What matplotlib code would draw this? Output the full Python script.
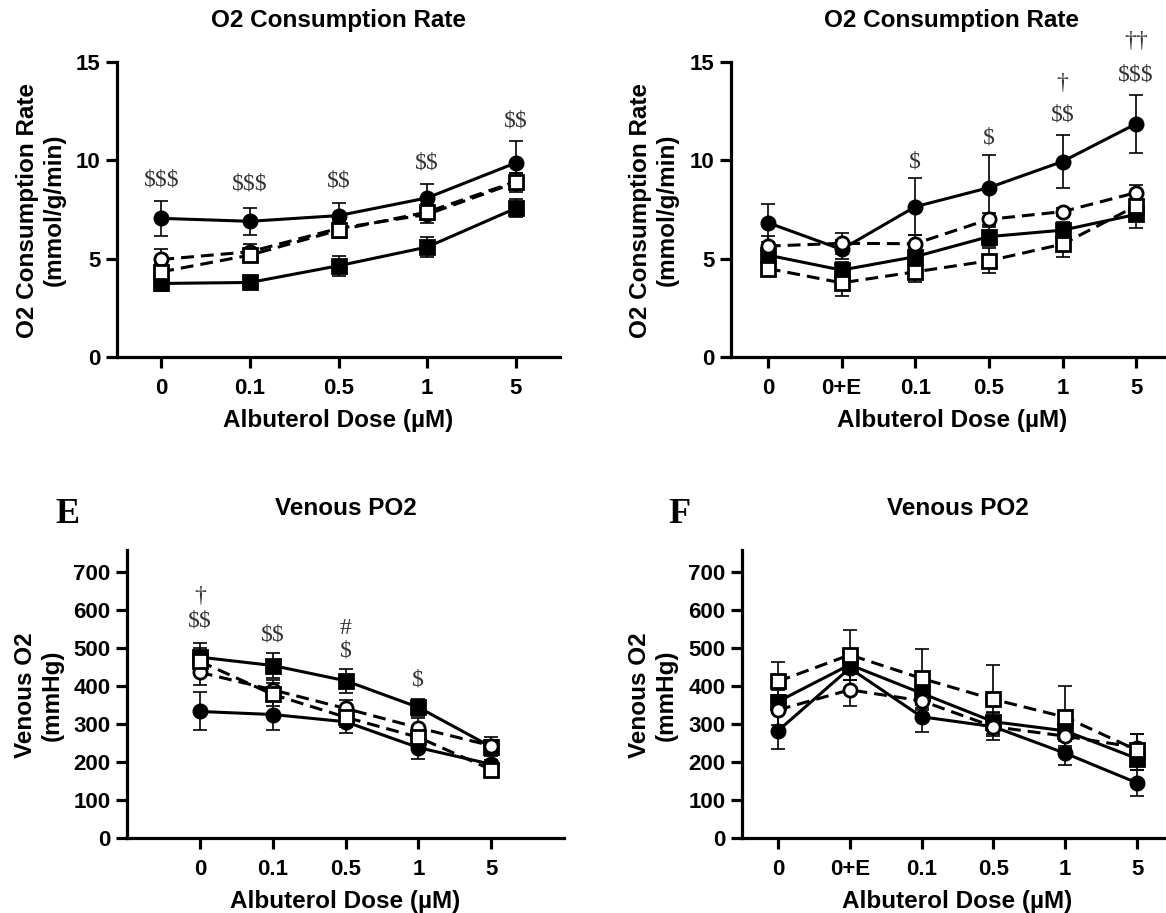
import matplotlib
matplotlib.use("Agg")
import matplotlib.pyplot as plt
import numpy as np

W, H = 1166, 913

# --- data ---
dose_a = ["0", "0.1", "0.5", "1", "5"]
dose_b = ["0", "0+E", "0.1", "0.5", "1", "5"]

# O2 consumption, panel A (mmol/g/min)
a_circ_f = [7.05, 6.90, 7.19, 8.09, 9.87]
a_circ_f_err = [0.90, 0.70, 0.65, 0.70, 1.10]
a_sq_f = [3.74, 3.79, 4.64, 5.59, 7.56]
a_sq_f_err = [0.37, 0.35, 0.50, 0.50, 0.45]
a_circ_o = [4.96, 5.35, 6.54, 7.25, 8.87]
a_circ_o_err = [0.55, 0.40, 0.45, 0.45, 0.50]
a_sq_o = [4.33, 5.18, 6.45, 7.37, 8.92]
a_sq_o_err = [0.40, 0.35, 0.40, 0.40, 0.45]

# O2 consumption, panel B
b_circ_f = [6.83, 5.47, 7.64, 8.61, 9.94, 11.86]
b_circ_f_err = [0.97, 0.50, 1.45, 1.68, 1.37, 1.47]
b_circ_o = [5.64, 5.78, 5.76, 7.00, 7.39, 8.36]
b_circ_o_err = [0.50, 0.55, 0.45, 0.30, 0.20, 0.40]
b_sq_f = [5.18, 4.42, 5.10, 6.12, 6.45, 7.25]
b_sq_f_err = [0.40, 0.40, 0.45, 0.50, 0.40, 0.70]
b_sq_o = [4.50, 3.77, 4.33, 4.89, 5.74, 7.68]
b_sq_o_err = [0.30, 0.66, 0.50, 0.64, 0.65, 0.50]

# Venous PO2, panel E (mmHg)
e_sq_f = [476, 454, 414, 344, 240]
e_sq_f_err = [38, 32, 32, 23, 25]
e_circ_f = [333, 325, 306, 238, 194]
e_circ_f_err = [50, 42, 30, 31, 12]
e_circ_o = [436, 390, 341, 290, 243]
e_circ_o_err = [33, 25, 22, 25, 15]
e_sq_o = [465, 378, 318, 265, 180]
e_sq_o_err = [35, 30, 25, 25, 18]

# Venous PO2, panel F
f_sq_o = [412, 482, 420, 365, 318, 231]
f_sq_o_err = [51, 65, 78, 91, 82, 42]
f_circ_o = [337, 390, 361, 293, 268, 238]
f_circ_o_err = [40, 43, 25, 25, 25, 35]
f_sq_f = [359, 456, 381, 306, 282, 209]
f_sq_f_err = [30, 25, 30, 25, 25, 30]
f_circ_f = [282, 447, 319, 293, 223, 145]
f_circ_f_err = [47, 30, 41, 35, 32, 35]

# significance marks: (category index, y value, text)
a_marks = [(0, 9.0, "$$$"), (1, 8.78, "$$$"), (2, 8.95, "$$"), (3, 9.85, "$$"), (4, 11.98, "$$")]
b_marks = [(2, 9.94, "$"), (3, 11.13, "$"), (4, 12.32, "$$"), (4, 13.93, "†"),
           (5, 14.35, "$$$"), (5, 16.05, "††")]
e_marks = [(0, 636, "†"), (0, 570, "$$"), (1, 535, "$$"), (2, 552, "#"), (2, 491, "$"), (3, 416, "$")]

plt.rcParams["font.family"] = ["Liberation Sans", "DejaVu Sans"]
plt.rcParams["font.weight"] = "bold"

SERIF = ["Liberation Serif", "DejaVu Serif"]


def px_box(left, top, right, bottom):
    return [left / W, 1 - bottom / H, (right - left) / W, (bottom - top) / H]


def draw_series(ax, vals, errs, marker, filled, dashed):
    x = np.arange(len(vals))
    ax.errorbar(x, vals, yerr=errs, fmt="none", ecolor="black", elinewidth=1.2,
                capsize=5, capthick=1.2, zorder=2)
    line, = ax.plot(x, vals, color="black", lw=2.2, marker=marker, markersize=9.5,
                    markerfacecolor="black" if filled else "white",
                    markeredgecolor="black", markeredgewidth=2.0, zorder=3)
    if dashed:
        line.set_dashes((4.2, 2.3))


def style_axes(ax, labels, xlim, ylim, yticks, title, xlabel):
    ax.set_xticks(np.arange(len(labels)))
    ax.set_xticklabels(labels)
    ax.set_xlim(*xlim)
    ax.set_ylim(*ylim)
    ax.set_yticks(yticks)
    for s in ["top", "right"]:
        ax.spines[s].set_visible(False)
    for s in ["left", "bottom"]:
        ax.spines[s].set_linewidth(2.3)
    ax.tick_params(axis="both", width=2.3, length=8, labelsize=16)
    ax.tick_params(axis="x", pad=7)
    ax.tick_params(axis="y", pad=4)
    ax.set_title(title, fontsize=17.5, fontweight="bold", pad=25)
    ax.set_xlabel(xlabel, fontsize=17.5, fontweight="bold", labelpad=7)


def add_marks(ax, marks):
    for i, y, s in marks:
        ax.text(i, y, s, ha="center", va="center", fontsize=17, family=SERIF,
                fontweight="normal", color="#333333", clip_on=False, parse_math=False)


fig = plt.figure(figsize=(W / 100, H / 100), dpi=100)

ax_a = fig.add_axes(px_box(117, 62, 560, 357))
ax_b = fig.add_axes(px_box(731, 62, 1173, 357))
ax_e = fig.add_axes(px_box(127, 550, 564, 838))
ax_f = fig.add_axes(px_box(742, 550, 1173, 838))

xlab = "Albuterol Dose (µM)"

# panel A
draw_series(ax_a, a_circ_f, a_circ_f_err, "o", True, False)
draw_series(ax_a, a_sq_f, a_sq_f_err, "s", True, False)
draw_series(ax_a, a_circ_o, a_circ_o_err, "o", False, True)
draw_series(ax_a, a_sq_o, a_sq_o_err, "s", False, True)
style_axes(ax_a, dose_a, (-0.5, 4.5), (0, 15), [0, 5, 10, 15], "O2 Consumption Rate", xlab)
add_marks(ax_a, a_marks)

# panel B
draw_series(ax_b, b_circ_f, b_circ_f_err, "o", True, False)
draw_series(ax_b, b_sq_f, b_sq_f_err, "s", True, False)
draw_series(ax_b, b_circ_o, b_circ_o_err, "o", False, True)
draw_series(ax_b, b_sq_o, b_sq_o_err, "s", False, True)
style_axes(ax_b, dose_b, (-0.5, 5.5), (0, 15), [0, 5, 10, 15], "O2 Consumption Rate", xlab)
add_marks(ax_b, b_marks)

# panel E
draw_series(ax_e, e_circ_f, e_circ_f_err, "o", True, False)
draw_series(ax_e, e_sq_f, e_sq_f_err, "s", True, False)
draw_series(ax_e, e_circ_o, e_circ_o_err, "o", False, True)
draw_series(ax_e, e_sq_o, e_sq_o_err, "s", False, True)
style_axes(ax_e, dose_a, (-1, 5), (0, 758), np.arange(0, 701, 100), "Venous PO2", xlab)
add_marks(ax_e, e_marks)

# panel F
draw_series(ax_f, f_circ_f, f_circ_f_err, "o", True, False)
draw_series(ax_f, f_sq_f, f_sq_f_err, "s", True, False)
draw_series(ax_f, f_circ_o, f_circ_o_err, "o", False, True)
draw_series(ax_f, f_sq_o, f_sq_o_err, "s", False, True)
style_axes(ax_f, dose_b, (-0.5, 5.5), (0, 758), np.arange(0, 701, 100), "Venous PO2", xlab)

# y labels placed at their centres
ylab_kw = dict(rotation=90, ha="center", va="center", fontsize=17.5, fontweight="bold",
               multialignment="center", linespacing=1.2)
fig.text(41 / W, 1 - 210 / H, "O2 Consumption Rate\n(mmol/g/min)", **ylab_kw)
fig.text(654 / W, 1 - 210 / H, "O2 Consumption Rate\n(mmol/g/min)", **ylab_kw)
fig.text(39 / W, 1 - 695 / H, "Venous O2\n(mmHg)", **ylab_kw)
fig.text(653 / W, 1 - 695 / H, "Venous O2\n(mmHg)", **ylab_kw)

# panel letters
fig.text(55 / W, 1 - 523 / H, "E", family=SERIF, fontsize=26, fontweight="bold", va="baseline")
fig.text(668 / W, 1 - 523 / H, "F", family=SERIF, fontsize=26, fontweight="bold", va="baseline")

fig.savefig("out.png", dpi=100)
